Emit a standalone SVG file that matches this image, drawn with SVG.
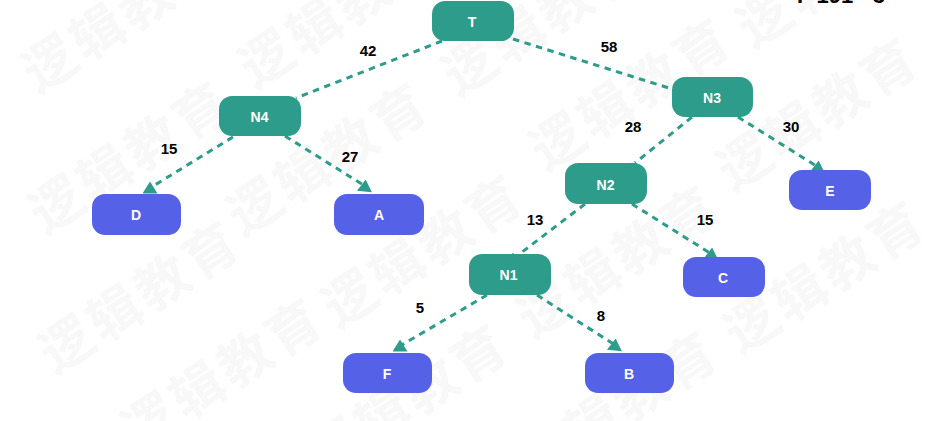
<svg xmlns="http://www.w3.org/2000/svg" width="935" height="421" viewBox="0 0 935 421">
<style>
.wm{font:700 53px "Noto Sans CJK SC","Liberation Sans",sans-serif;fill:#f8f8f8;letter-spacing:4px}
.n rect{rx:13px;ry:13px}
.g rect{fill:#2e9c8a}
.b rect{fill:#5562e8}
.n text{font:700 14px "Liberation Sans",Arial,sans-serif;fill:#fff;text-anchor:middle}
.l{font:700 15px "Liberation Sans",Arial,sans-serif;fill:#000;text-anchor:middle}
.e{stroke:#2e9c8a;stroke-width:3;stroke-dasharray:6.500 5.500;fill:none}
.h{marker-end:url(#a)}
.r{marker-end:url(#b)}
</style>
<defs>
<marker id="a" viewBox="0 0 15 13" refX="7.500" refY="6.500" markerWidth="15" markerHeight="13" markerUnits="userSpaceOnUse" orient="0"><path d="M7.500 0L15 12H0Z" fill="#2e9c8a"/></marker>
<marker id="b" viewBox="0 0 15 13" refX="7.500" refY="6.500" markerWidth="15" markerHeight="13" markerUnits="userSpaceOnUse" orient="6"><path d="M7.500 0L15 12H0Z" fill="#2e9c8a"/></marker>
</defs>
<rect width="935" height="421" fill="#fff"/>
<g id="watermark">
<text class="wm" transform="translate(38,94) rotate(-33)">逻辑教育</text>
<text class="wm" transform="translate(255,89) rotate(-33)">逻辑教育</text>
<text class="wm" transform="translate(458,97) rotate(-33)">逻辑教育</text>
<text class="wm" transform="translate(753,49) rotate(-33)">逻辑教育</text>
<text class="wm" transform="translate(45,235) rotate(-33)">逻辑教育</text>
<text class="wm" transform="translate(243,237) rotate(-33)">逻辑教育</text>
<text class="wm" transform="translate(546,172) rotate(-33)">逻辑教育</text>
<text class="wm" transform="translate(733,192) rotate(-33)">逻辑教育</text>
<text class="wm" transform="translate(55,375) rotate(-33)">逻辑教育</text>
<text class="wm" transform="translate(338,329) rotate(-33)">逻辑教育</text>
<text class="wm" transform="translate(533,339) rotate(-33)">逻辑教育</text>
<text class="wm" transform="translate(740,355) rotate(-33)">逻辑教育</text>
<text class="wm" transform="translate(138,452) rotate(-33)">逻辑教育</text>
<text class="wm" transform="translate(323,478) rotate(-33)">逻辑教育</text>
<text class="wm" transform="translate(533,485) rotate(-33)">逻辑教育</text>
</g>
<g id="connectors">
<path class="e" d="M442 41L296 98"/>
<path class="e" d="M513 39L672 89"/>
<path class="e h" d="M233 137L150 188"/>
<path class="e r" d="M285 136L365 186"/>
<path class="e" d="M692 117L635 163"/>
<path class="e r" d="M738 117L818 167"/>
<path class="e h" d="M585 204L513 259"/>
<path class="e r" d="M632 204L711.500 254"/>
<path class="e h" d="M487 295L400 346"/>
<path class="e r" d="M537 295L615 345"/>
</g>
<g id="T" class="n g"><rect x="432" y="1" width="82" height="40"/><text x="472" y="27">T</text></g>
<g id="N4" class="n g"><rect x="219" y="96" width="82" height="40"/><text x="259.500" y="122">N4</text></g>
<g id="N3" class="n g"><rect x="672" y="77" width="81" height="40"/><text x="712" y="103">N3</text></g>
<g id="N2" class="n g"><rect x="565" y="163" width="82" height="41"/><text x="605.500" y="190">N2</text></g>
<g id="N1" class="n g"><rect x="469" y="254" width="82" height="41"/><text x="508.500" y="280">N1</text></g>
<g id="D" class="n b"><rect x="92" y="194" width="89" height="41"/><text x="136" y="220">D</text></g>
<g id="A" class="n b"><rect x="334" y="194" width="90" height="41"/><text x="379" y="220">A</text></g>
<g id="E" class="n b"><rect x="789" y="170" width="82" height="40"/><text x="830" y="196">E</text></g>
<g id="C" class="n b"><rect x="683" y="257" width="82" height="40"/><text x="723" y="283">C</text></g>
<g id="F" class="n b"><rect x="343" y="353" width="89" height="40"/><text x="387" y="379">F</text></g>
<g id="B" class="n b"><rect x="585" y="353" width="89" height="40"/><text x="629" y="379">B</text></g>
<g id="labels">
<text class="l" x="368" y="56">42</text><text class="l" x="609" y="52">58</text>
<text class="l" x="169" y="154">15</text><text class="l" x="350" y="162">27</text>
<text class="l" x="633" y="132">28</text><text class="l" x="791" y="132">30</text>
<text class="l" x="535" y="225">13</text><text class="l" x="705" y="225">15</text>
<text class="l" x="420" y="313">5</text><text class="l" x="601" y="321">8</text>
<text x="797" y="3" style="font:700 22px 'Liberation Sans',Arial,sans-serif;fill:#000">F 191 - 3</text>
</g>
</svg>
